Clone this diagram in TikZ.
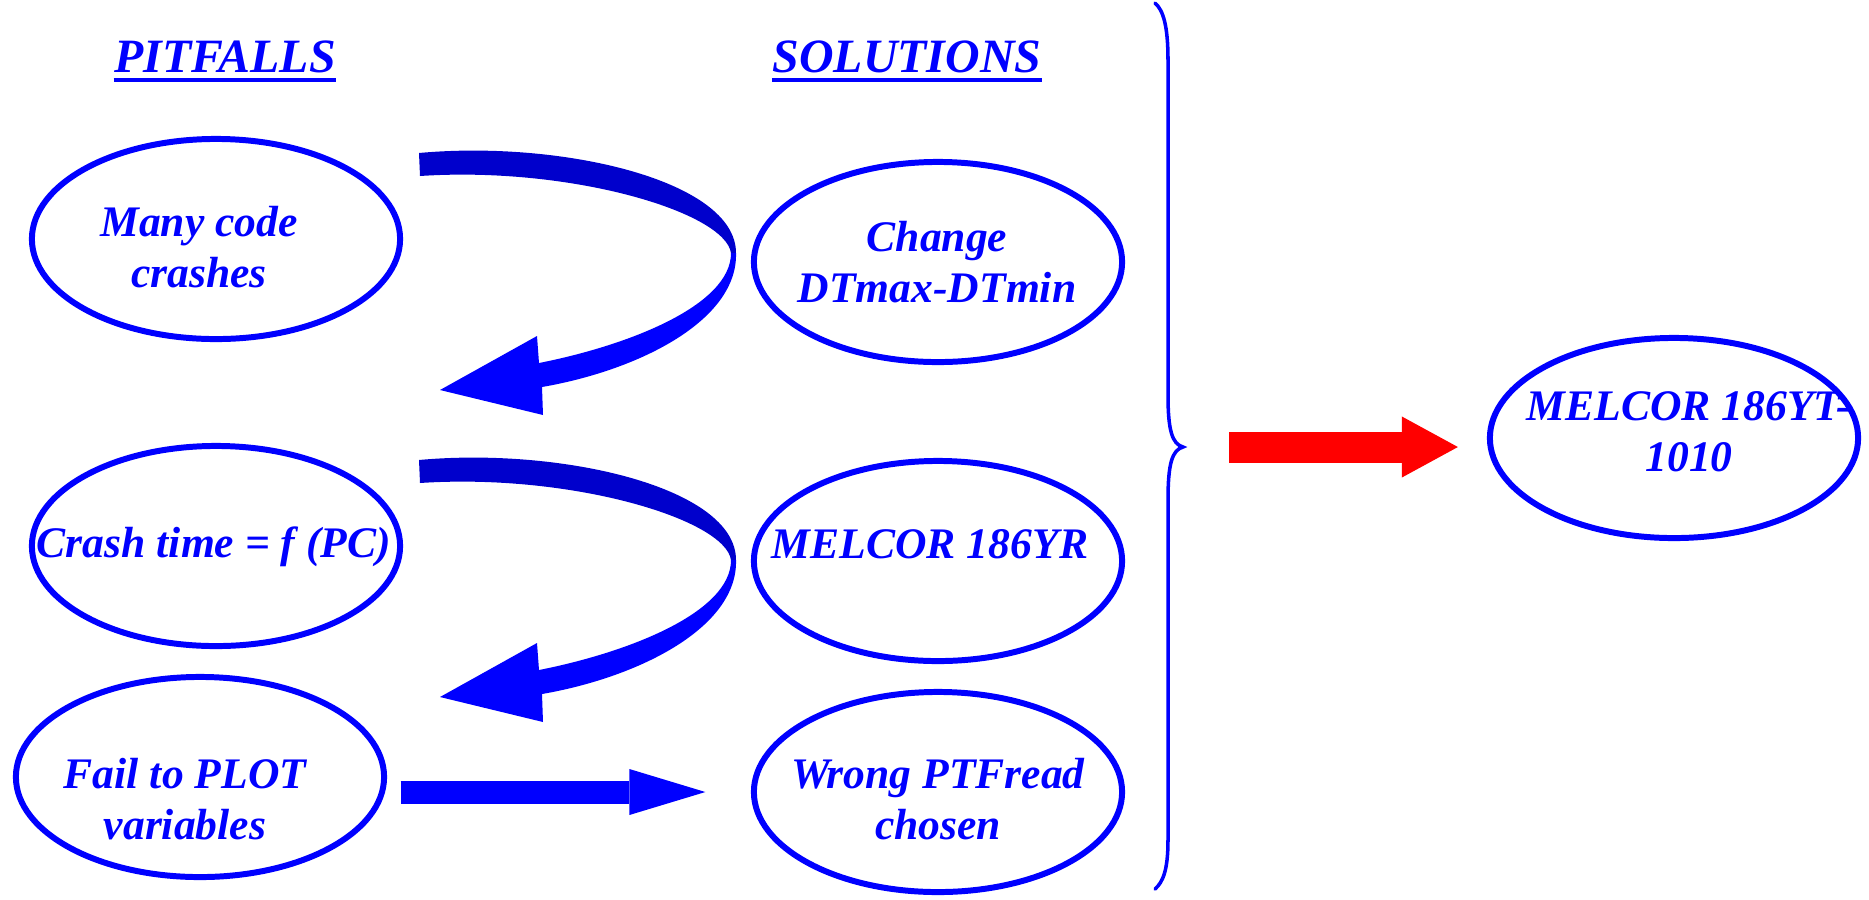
\documentclass[tikz,border=0pt]{standalone}
\usepackage{fontspec}
\setmainfont{Liberation Serif}
\usepackage{tikz}
\usetikzlibrary{shapes.geometric,arrows.meta}
\definecolor{pptblue}{RGB}{0,0,255}
\definecolor{ribbon}{RGB}{0,0,204}
\definecolor{pptred}{RGB}{255,0,0}

\tikzset{
  oval/.style={ellipse,draw=pptblue,line width=1.7pt,minimum width=3.68cm,minimum height=2cm,inner sep=0pt},
  lbl/.style={text=pptblue,font=\fontsize{12.4}{14.6}\selectfont\bfseries\itshape,align=center,inner sep=0pt},
  head/.style={text=pptblue,font=\fontsize{13.6}{16}\selectfont\bfseries\itshape,inner sep=0pt,anchor=base},
  uline/.style={pptblue,line width=0.04cm}
}

\begin{document}
\begin{tikzpicture}[x=0.01cm,y=-0.01cm]
    \useasboundingbox (0,0) rectangle (1869,899);
    % headings
    \node[head] (pitfalls) at (225,72) {PITFALLS};
    \node[head] (solutions) at (907,72) {SOLUTIONS};
    \draw[uline] ([yshift=-0.08cm]pitfalls.base west) -- ([yshift=-0.08cm]pitfalls.base east);
    \draw[uline] ([yshift=-0.08cm]solutions.base west) -- ([yshift=-0.08cm]solutions.base east);
    % pitfalls
    \node[oval] (crashes) at (216,239) {};
    \node[lbl] (crashestxt) at (199,247) {Many code\\crashes};
    \node[oval] (crashtime) at (216,546) {};
    \node[lbl] (crashtimetxt) at (214,547) {Crash time = f (PC)};
    \node[oval] (plotfail) at (200,777) {};
    \node[lbl] (plotfailtxt) at (185,799) {Fail to PLOT\\variables};
    % solutions
    \node[oval] (dtchange) at (938,262) {};
    \node[lbl] (dtchangetxt) at (937,262) {Change\\DTmax-DTmin};
    \node[oval] (yr) at (938,561) {};
    \node[lbl] (yrtxt) at (930,544) {MELCOR 186YR};
    \node[oval] (ptfread) at (938,792) {};
    \node[lbl] (ptfreadtxt) at (938,799) {Wrong PTFread\\chosen};
    % result
    \node[oval] (final) at (1674,438) {};
    \node[lbl] (finaltxt) at (1689,432) {MELCOR 186YT-\\1010};
    % curved arrows (back side darker)
    \foreach \dy in {0,307}{
      \begin{scope}[shift={(0,\dy)}]
        \fill[ribbon] (419,153) .. controls (560,140) and (736,180) .. (736,253)
            -- (731,253) .. controls (725,212) and (570,166) .. (420,176) -- cycle;
        \fill[pptblue] (736,253) .. controls (738,320) and (640,370) .. (542,387)
            -- (543,415) -- (440,390) -- (537,336) -- (539,363)
            .. controls (630,345) and (731,305) .. (731,253) -- cycle;
      \end{scope}
    }
    \draw[pptblue,line width=0.23cm,-{Triangle[length=0.76cm,width=0.46cm,line width=0pt]},shorten <=0.135cm,shorten >=0.455cm] (plotfail.east |- ptfread.west) -- (ptfread.west);
    % brace
    \draw[pptblue,line width=1pt,line cap=round] (1155,3) .. controls (1163,10) and (1168,25) .. (1168,60)
        -- (1168,395) .. controls (1168,430) and (1172,444) .. (1183,447)
        .. controls (1172,450) and (1168,464) .. (1168,500)
        -- (1168,840) .. controls (1168,870) and (1163,882) .. (1155,889);
    \coordinate (bracetip) at (1183,447);
    \draw[pptred,line width=0.31cm,-{Triangle[length=0.56cm,width=0.61cm,line width=0pt]},shorten <=0.46cm,shorten >=0.29cm] (bracetip) -- (bracetip -| final.west);
\end{tikzpicture}
\end{document}
